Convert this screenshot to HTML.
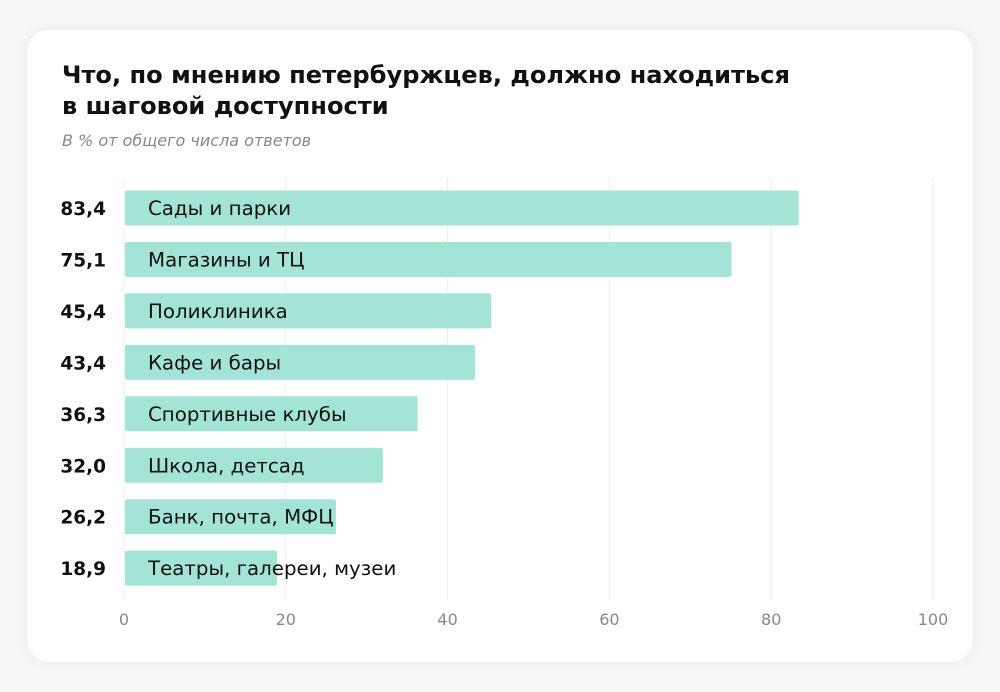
<!DOCTYPE html>
<html><head><meta charset="utf-8"><style>
body{margin:0;width:1000px;height:692px;background:#f6f6f6;font-family:"DejaVu Sans","Liberation Sans",sans-serif;overflow:hidden}
#card{position:absolute;left:27px;top:30px;width:946px;height:632px;background:#fff;border-radius:22px;box-shadow:0 0 12px rgba(0,0,0,0.06)}
h1{position:absolute;left:62px;top:60px;margin:0;font-size:24.1px;line-height:31px;font-weight:bold;color:#111}
#sub{position:absolute;left:62px;top:131px;font-size:16px;font-style:italic;color:#888}
svg{position:absolute;left:0;top:0}
</style></head><body>
<div id="card"></div>
<h1>Что, по мнению петербуржцев, должно находиться<br>в шаговой доступности</h1>
<div id="sub">В % от общего числа ответов</div>
<svg id="chart" width="1000" height="692"></svg>
<script>
const categories=["Сады и парки","Магазины и ТЦ","Поликлиника","Кафе и бары","Спортивные клубы","Школа, детсад","Банк, почта, МФЦ","Театры, галереи, музеи"];
const values=[83.4,75.1,45.4,43.4,36.3,32.0,26.2,18.9];
const valueLabels=["83,4","75,1","45,4","43,4","36,3","32,0","26,2","18,9"];
const ticks=[0,20,40,60,80,100];
const svg=document.getElementById('chart');
const NS='http://www.w3.org/2000/svg';
const x=v=>124+v*8.09;
const yc=i=>208+i*51.45;
function mk(t,a){const e=document.createElementNS(NS,t);for(const k in a)e.setAttribute(k,a[k]);svg.appendChild(e);return e;}
ticks.forEach(t=>{
const g=mk('line',{x1:x(t),x2:x(t),y1:178,y2:600,stroke:'#ececec','stroke-width':1});


const l=mk('text',{x:x(t),y:625,'text-anchor':'middle','font-size':16,fill:'#888'});
l.textContent=t;


});
categories.forEach((c,i)=>{
const b=mk('rect',{x:x(0)+1,y:yc(i)-17.5,width:x(values[i])-x(0)-1,height:35,rx:2,fill:'#a3e4d7'});


const t=mk('text',{x:148,y:yc(i)+7,'font-size':19.8,fill:'#111'});
t.textContent=c;


const v=mk('text',{x:106,y:yc(i)+7,'text-anchor':'end','font-size':18.5,'font-weight':'bold',fill:'#111'});
v.textContent=valueLabels[i];


});
</script>
</body></html>
